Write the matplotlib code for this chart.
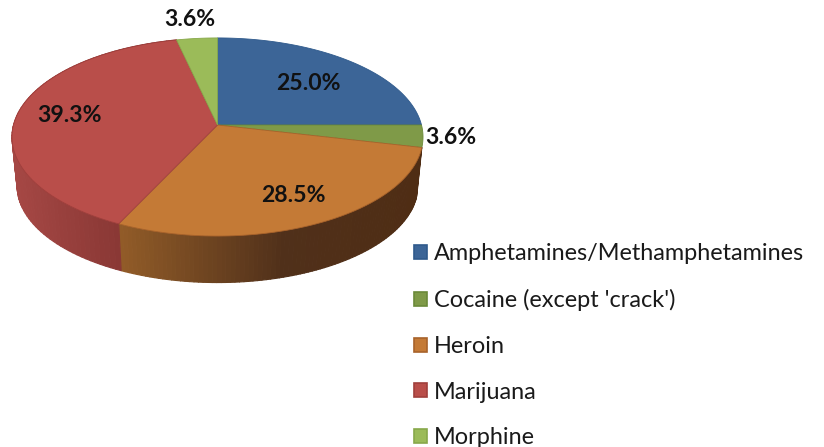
import numpy as np
import matplotlib
matplotlib.use('Agg')
import matplotlib.pyplot as plt
from matplotlib.collections import PolyCollection
from matplotlib.colors import LinearSegmentedColormap
from matplotlib.patches import Patch

# Example data
drugs = ['Amphetamines/Methamphetamines', "Cocaine (except 'crack')", 'Heroin', 'Marijuana', 'Morphine']
shares = [25.0, 3.6, 28.5, 39.3, 3.6]

colors = ['#3c6597', '#7f9a48', '#c47a36', '#b94e4a', '#9bbb59']
edges = ['#2f5a8c', '#6b8a39', '#a8622a', '#a03f3c', '#87a84a']
label_xy = [(308, 83), (451, 137), (293, 196), (70, 115), (190, 20)]

plt.rcParams['font.family'] = ['Lato', 'DejaVu Sans']

# pie geometry, in pixels
cx, cy = 217.5, 125
a, b, k = 204, 97.6, 0.121  # k tilts the disc, far side looks smaller
depth, shrink = 49, 0.975

fig = plt.figure(figsize=(8.24, 4.47), dpi=100)
ax = fig.add_axes([0, 0, 1, 1])
ax.set_xlim(0, 824)
ax.set_ylim(447, 0)
ax.axis('off')


def rim(frac):
    t = 2 * np.pi * np.asarray(frac)
    x, y = np.sin(t), np.cos(t)
    d = 1 + k * y
    return cx + a * x / d, cy - b * y / d


def lower_rim(frac):
    x, y = rim(frac)
    return cx + (x - cx) * shrink, cy + 12 + (y - cy - 12) * shrink + depth


fracs = np.cumsum([0] + shares) / sum(shares)

# side wall, strips shaded by x position
side_cmaps = {
    2: LinearSegmentedColormap.from_list('h', [(0, '#925c28'), (0.55, '#50301a'), (1, '#4f2d14')]),
    3: LinearSegmentedColormap.from_list('m', ['#a54744', '#8a3835']),
}
for i, cmap in side_cmaps.items():
    f = np.linspace(fracs[i], fracs[i + 1], 90)
    x0, y0 = rim(f)
    x1, y1 = lower_rim(f)
    if i == 2:
        lo, hi = 120, 422
    else:
        lo, hi = 15, 120
    polys, cols = [], []
    for j in range(len(f) - 1):
        polys.append([(x0[j], y0[j]), (x0[j + 1], y0[j + 1]), (x1[j + 1], y1[j + 1]), (x1[j], y1[j])])
        cols.append(cmap(np.clip((x0[j] - lo) / (hi - lo), 0, 1)))
    ax.add_collection(PolyCollection(polys, facecolors=cols, edgecolors=cols, linewidths=0.8))

# top face
for i in range(len(shares)):
    f = np.linspace(fracs[i], fracs[i + 1], 120)
    x, y = rim(f)
    ax.fill(np.r_[cx, x], np.r_[cy, y], facecolor=colors[i], edgecolor=edges[i], linewidth=0.6)

for v, (x, y) in zip(shares, label_xy):
    ax.text(x, y, f'{v:.1f}%', ha='center', va='center', fontsize=16.6,
            fontweight='bold', color='#111111')

handles = [Patch(facecolor=c, edgecolor=e, linewidth=1.2) for c, e in zip(colors, edges)]
ax.legend(handles, drugs, loc='upper left', bbox_to_anchor=(414 / 824, 1 - 243.5 / 447), frameon=False,
          fontsize=16.9, labelcolor='#1a1a1a', handlelength=0.55, handleheight=0.55,
          handletextpad=0.3, labelspacing=1.05, borderpad=0, borderaxespad=0)

plt.savefig('out.png', dpi=100)
plt.close()
